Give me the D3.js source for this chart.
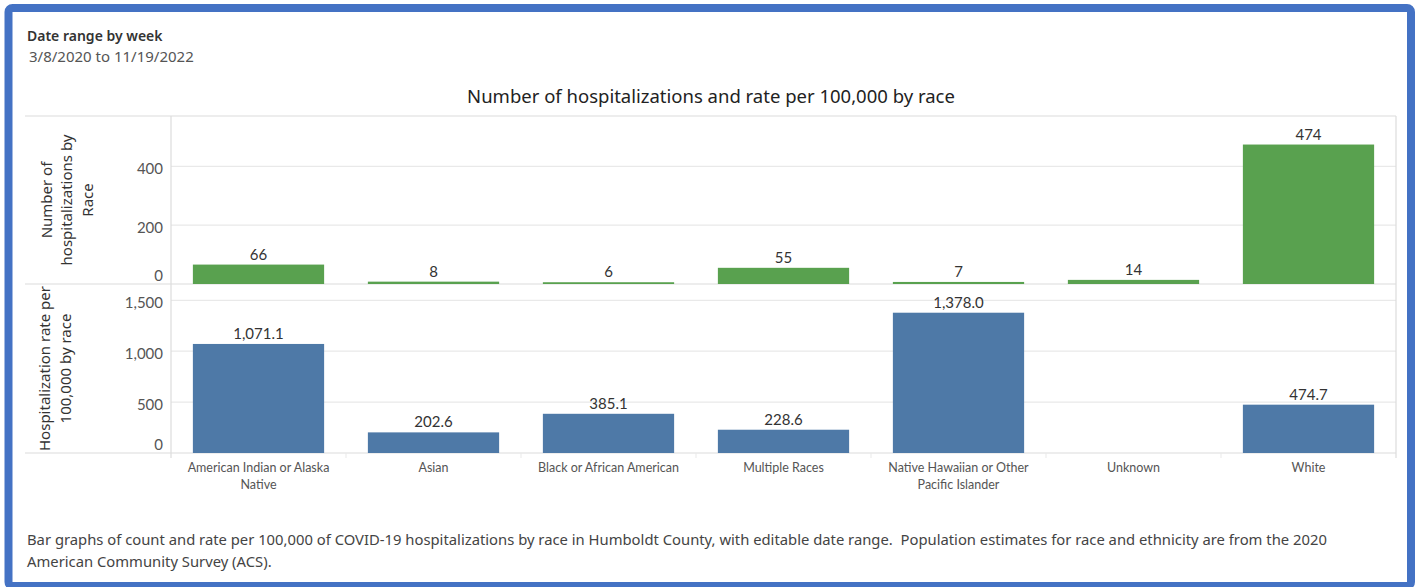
<!DOCTYPE html>
<html>
<head>
<meta charset="utf-8">
<script src="https://cdn.jsdelivr.net/npm/d3@7"></script>
<style>
  body { margin: 0; background: #fff; }
  svg { display: block; }
  text { font-family: Lato, "Noto Sans", sans-serif; }
  text.wide, g.wide text { font-family: "Noto Sans", "Open Sans", sans-serif; }
</style>
</head>
<body>
<svg id="chart" width="1422" height="587"></svg>
<script>
// Hospitalizations by race, Humboldt County
const categories = [
  "American Indian or Alaska Native",
  "Asian",
  "Black or African American",
  "Multiple Races",
  "Native Hawaiian or Other Pacific Islander",
  "Unknown",
  "White"
];
const categoryLines = [
  ["American Indian or Alaska", "Native"],
  ["Asian"],
  ["Black or African American"],
  ["Multiple Races"],
  ["Native Hawaiian or Other", "Pacific Islander"],
  ["Unknown"],
  ["White"]
];
const hospitalizations = [66, 8, 6, 55, 7, 14, 474];
const ratePer100k = [1071.1, 202.6, 385.1, 228.6, 1378.0, null, 474.7];
const countTicks = [0, 200, 400];
const rateTicks = [0, 500, 1000, 1500];

const svg = d3.select("#chart");

// outer frame
svg.append("rect")
  .attr("x", 8.5).attr("y", 8).attr("width", 1402.5).attr("height", 578)
  .attr("rx", 4)
  .attr("fill", "#fff")
  .attr("stroke", "#4472c4").attr("stroke-width", 8);

// header
svg.append("text").attr("class", "wide").attr("x", 27).attr("y", 41)
  .attr("font-size", 14).attr("font-weight", 600).attr("fill", "#333")
  .text("Date range by week");
svg.append("text").attr("class", "wide").attr("x", 29).attr("y", 62)
  .attr("font-size", 15).attr("fill", "#555")
  .text("3/8/2020 to 11/19/2022");

// chart title
svg.append("text").attr("class", "wide").attr("x", 711).attr("y", 103)
  .attr("text-anchor", "middle").attr("font-size", 18.5).attr("fill", "#222")
  .text("Number of hospitalizations and rate per 100,000 by race");

// scales
const paneLeft = 171, paneRight = 1396, headerLeft = 25;
const x = d3.scaleBand().domain(categories)
  .range([paneLeft, paneRight]).paddingInner(0.25).paddingOuter(0.125);
const yCount = d3.scaleLinear().domain([0, 571]).range([284, 116]);
const yRate = d3.scaleLinear().domain([0, 1660]).range([453, 284]);

const grid = svg.append("g");
const gridColor = "#e9e9e9", ruleColor = "#dcdcdc";

// gridlines
countTicks.filter(t => t > 0).forEach(t => {
  grid.append("line").attr("x1", paneLeft).attr("x2", paneRight)
    .attr("y1", yCount(t)).attr("y2", yCount(t))
    .attr("stroke", gridColor).attr("stroke-width", 1.2);
});
rateTicks.filter(t => t > 0).forEach(t => {
  grid.append("line").attr("x1", paneLeft).attr("x2", paneRight)
    .attr("y1", yRate(t)).attr("y2", yRate(t))
    .attr("stroke", gridColor).attr("stroke-width", 1.2);
});

// pane borders and separators
[yCount.range()[1], yCount(0), yRate(0)].forEach(y => {
  grid.append("line").attr("x1", headerLeft).attr("x2", paneRight)
    .attr("y1", y).attr("y2", y)
    .attr("stroke", ruleColor).attr("stroke-width", 1.2);
});
[paneLeft, paneRight].forEach(xx => {
  grid.append("line").attr("x1", xx).attr("x2", xx)
    .attr("y1", yCount.range()[1]).attr("y2", yRate(0) + 5)
    .attr("stroke", ruleColor).attr("stroke-width", 1.2);
});
categories.slice(1).forEach(c => {
  const bx = x(c) - x.step() * x.paddingInner() / 2;
  grid.append("line").attr("x1", bx).attr("x2", bx)
    .attr("y1", yRate(0)).attr("y2", yRate(0) + 5)
    .attr("stroke", gridColor).attr("stroke-width", 1);
});

// y tick labels
const tickG = svg.append("g").attr("font-size", 15).attr("fill", "#555").attr("text-anchor", "end");
const fmtTick = d3.format(",");
countTicks.forEach(t => {
  tickG.append("text").attr("x", 163)
    .attr("y", t === 0 ? yCount(t) - 3 : yCount(t) + 8)
    .text(fmtTick(t));
});
rateTicks.forEach(t => {
  tickG.append("text").attr("x", 163)
    .attr("y", t === 0 ? yRate(t) - 3 : yRate(t) + 8)
    .text(fmtTick(t));
});

// axis titles
function axisTitle(lines, cx, cy, gap) {
  const g = svg.append("g")
    .attr("transform", `translate(${cx},${cy}) rotate(-90)`)
    .attr("class", "wide")
    .attr("font-size", 15).attr("fill", "#333").attr("text-anchor", "middle");
  const n = lines.length;
  lines.forEach((l, i) => {
    g.append("text").attr("x", 0)
      .attr("y", (i - (n - 1) / 2) * gap + 5)
      .text(l);
  });
}
axisTitle(["Number of", "hospitalizations by", "Race"], 67, (yCount(0) + yCount.range()[1]) / 2, 20.5);
axisTitle(["Hospitalization rate per", "100,000 by race"], 55, (yRate(0) + yRate.range()[1]) / 2, 21);

// count bars
const green = "#59a14f", blue = "#4e79a7";
const countData = categories.map((c, i) => ({ c, v: hospitalizations[i] }));
const rateData = categories.map((c, i) => ({ c, v: ratePer100k[i] })).filter(d => d.v != null);

svg.append("g").selectAll("rect").data(countData).join("rect")
  .attr("x", d => x(d.c)).attr("width", x.bandwidth())
  .attr("y", d => yCount(d.v)).attr("height", d => yCount(0) - yCount(d.v))
  .attr("fill", green);
svg.append("g").attr("font-size", 15).attr("fill", "#333").attr("text-anchor", "middle")
  .selectAll("text").data(countData).join("text")
  .attr("x", d => x(d.c) + x.bandwidth() / 2)
  .attr("y", d => yCount(d.v) - 5)
  .text(d => d3.format(",")(d.v));

// rate bars
const fmtRate = d3.format(",.1f");
svg.append("g").selectAll("rect").data(rateData).join("rect")
  .attr("x", d => x(d.c)).attr("width", x.bandwidth())
  .attr("y", d => yRate(d.v)).attr("height", d => yRate(0) - yRate(d.v))
  .attr("fill", blue);
svg.append("g").attr("font-size", 15).attr("fill", "#333").attr("text-anchor", "middle")
  .selectAll("text").data(rateData).join("text")
  .attr("x", d => x(d.c) + x.bandwidth() / 2)
  .attr("y", d => yRate(d.v) - 5)
  .text(d => fmtRate(d.v));

// category labels
const catG = svg.append("g").attr("font-size", 12.5).attr("fill", "#555").attr("text-anchor", "middle");
categories.forEach((c, i) => {
  categoryLines[i].forEach((l, j) => {
    catG.append("text").attr("x", x(c) + x.bandwidth() / 2)
      .attr("y", 471.5 + j * 17)
      .text(l);
  });
});

// footer note
const note = svg.append("g").attr("class", "wide").attr("font-size", 14.8).attr("fill", "#444");
note.append("text").attr("x", 27).attr("y", 545).attr("xml:space", "preserve")
  .text("Bar graphs of count and rate per 100,000 of COVID-19 hospitalizations by race in Humboldt County, with editable date range.  Population estimates for race and ethnicity are from the 2020");
note.append("text").attr("x", 27).attr("y", 567)
  .text("American Community Survey (ACS).");
</script>
</body>
</html>
